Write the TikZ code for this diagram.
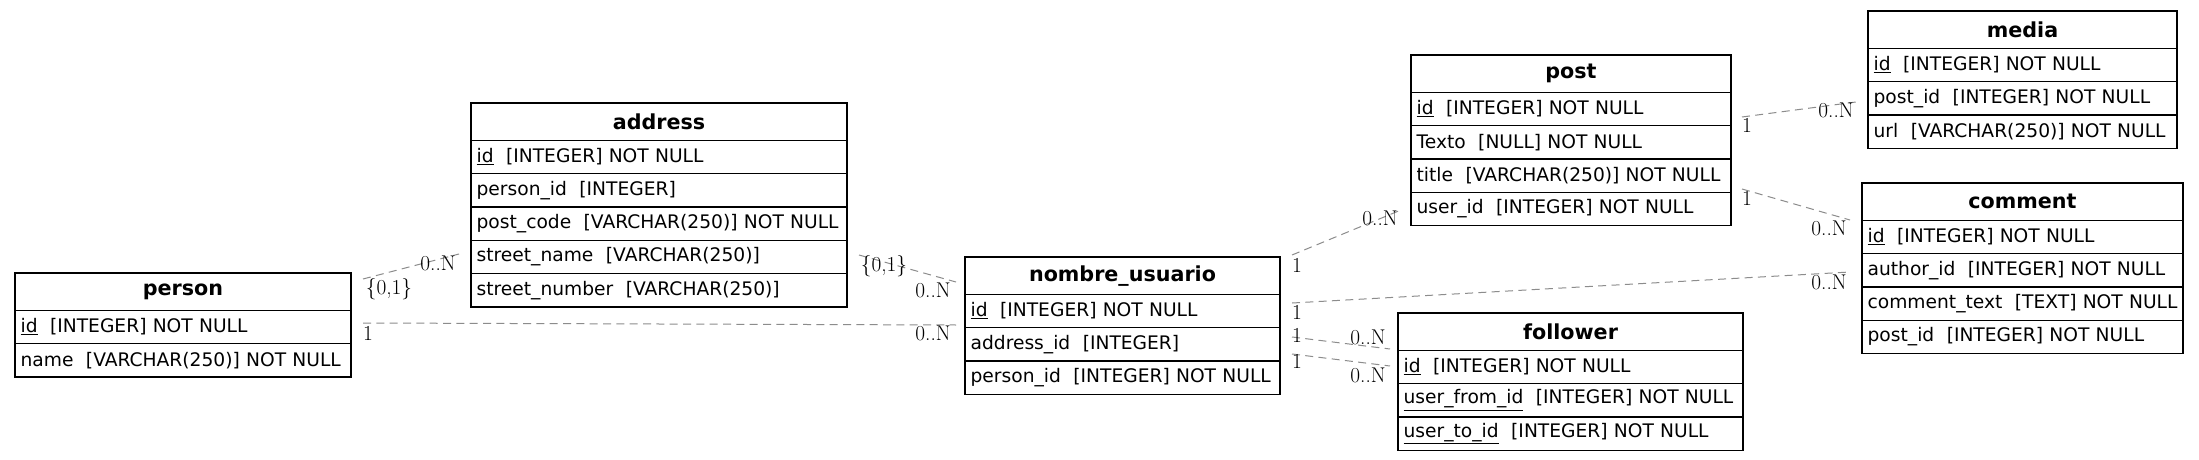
\documentclass[tikz,border=0pt]{standalone}
\usepackage{fontspec}
\newfontfamily\dv{DejaVu Sans}
\newcommand\fl[1]{\mbox{#1}}
\begin{document}
\begin{tikzpicture}[x=0.75pt,y=-0.75pt,
  hdr/.style={draw=black, line width=1pt, outer sep=0pt, anchor=north west, minimum height=28pt, inner xsep=0pt, inner ysep=0pt, text width=#1, align=center, font=\dv\bfseries\fontsize{15.5}{18}\selectfont},
  fld/.style={draw=black, line width=1pt, outer sep=0pt, anchor=north west, minimum height=25pt, inner xsep=4.2pt, inner ysep=0pt, text width=#1, align=left, font=\dv\fontsize{14}{16}\selectfont},
  rel/.style={draw=black!45, line width=0.75pt, dash pattern=on 6pt off 4pt},
  lbl/.style={inner sep=0pt, font=\fontsize{16}{18}\selectfont}]
\useasboundingbox (0,0) rectangle (2199,460);
\fill[white] (0,0) rectangle (2199,460);
% person (w 252pt)
\node[hdr=252pt] (person) at (15,273) {person};
\node[fld=243.6pt] (person1) at (person.south west) {\fl{\underline{id}~~[INTEGER] NOT NULL}};
\node[fld=243.6pt] (person2) at (person1.south west) {\fl{name~~[VARCHAR(250)] NOT NULL}};
% address (w 282pt)
\node[hdr=282pt] (address) at (471,103) {address};
\node[fld=273.6pt] (address1) at (address.south west) {\fl{\underline{id}~~[INTEGER] NOT NULL}};
\node[fld=273.6pt] (address2) at (address1.south west) {\fl{person\_id~~[INTEGER]}};
\node[fld=273.6pt] (address3) at (address2.south west) {\fl{post\_code~~[VARCHAR(250)] NOT NULL}};
\node[fld=273.6pt] (address4) at (address3.south west) {\fl{street\_name~~[VARCHAR(250)]}};
\node[fld=273.6pt] (address5) at (address4.south west) {\fl{street\_number~~[VARCHAR(250)]}};
% nombre_usuario (w 236.25pt)
\node[hdr=236.25pt] (user) at (965,257) {nombre\_usuario};
\node[fld=227.85pt] (user1) at (user.south west) {\fl{\underline{id}~~[INTEGER] NOT NULL}};
\node[fld=227.85pt] (user2) at (user1.south west) {\fl{address\_id~~[INTEGER]}};
\node[fld=227.85pt] (user3) at (user2.south west) {\fl{person\_id~~[INTEGER] NOT NULL}};
% post (w 240pt)
\node[hdr=240pt] (post) at (1411,55) {post};
\node[fld=231.6pt] (post1) at (post.south west) {\fl{\underline{id}~~[INTEGER] NOT NULL}};
\node[fld=231.6pt] (post2) at (post1.south west) {\fl{Texto~~[NULL] NOT NULL}};
\node[fld=231.6pt] (post3) at (post2.south west) {\fl{title~~[VARCHAR(250)] NOT NULL}};
\node[fld=231.6pt] (post4) at (post3.south west) {\fl{user\_id~~[INTEGER] NOT NULL}};
% follower (w 258.75pt)
\node[hdr=258.75pt] (follower) at (1398,313) {follower};
\node[fld=250.35pt] (follower1) at (follower.south west) {\fl{\underline{id}~~[INTEGER] NOT NULL}};
\node[fld=250.35pt] (follower2) at (follower1.south west) {\fl{\underline{user\_from\_id}~~[INTEGER] NOT NULL}};
\node[fld=250.35pt] (follower3) at (follower2.south west) {\fl{\underline{user\_to\_id}~~[INTEGER] NOT NULL}};
% media (w 231.75pt)
\node[hdr=231.75pt] (media) at (1868,11) {media};
\node[fld=223.35pt] (media1) at (media.south west) {\fl{\underline{id}~~[INTEGER] NOT NULL}};
\node[fld=223.35pt] (media2) at (media1.south west) {\fl{post\_id~~[INTEGER] NOT NULL}};
\node[fld=223.35pt] (media3) at (media2.south west) {\fl{url~~[VARCHAR(250)] NOT NULL}};
% comment (w 240.75pt)
\node[hdr=240.75pt] (comment) at (1862,183) {comment};
\node[fld=232.35pt] (comment1) at (comment.south west) {\fl{\underline{id}~~[INTEGER] NOT NULL}};
\node[fld=232.35pt] (comment2) at (comment1.south west) {\fl{author\_id~~[INTEGER] NOT NULL}};
\node[fld=232.35pt] (comment3) at (comment2.south west) {\fl{comment\_text~~[TEXT] NOT NULL}};
\node[fld=232.35pt] (comment4) at (comment3.south west) {\fl{post\_id~~[INTEGER] NOT NULL}};
% connector end points
\coordinate (a1) at (363,279); \coordinate (b1) at (459,254);
\coordinate (a2) at (363,323); \coordinate (b2) at (956,325);
\coordinate (a3) at (859,255); \coordinate (b3) at (956,282);
\coordinate (a4) at (1292,255); \coordinate (b4) at (1401,210);
\coordinate (a5) at (1292,303); \coordinate (b5) at (1850,272);
\coordinate (a6) at (1292,337); \coordinate (b6) at (1390,349);
\coordinate (a7) at (1292,354); \coordinate (b7) at (1390,366);
\coordinate (a8) at (1742,117); \coordinate (b8) at (1856,102);
\coordinate (a9) at (1742,189); \coordinate (b9) at (1850,220);
\foreach \i in {1,...,9} {\draw[rel] (a\i) -- (b\i);}
% labels
\node[lbl] (t1) at (389,289) {\{0,1\}};  \node[lbl] (h1) at (438,263) {0..N};
\node[lbl] (t2) at (368,333) {1};        \node[lbl] (h2) at (933,333) {0..N};
\node[lbl] (t3) at (884,266) {\{0,1\}};  \node[lbl] (h3) at (933,290) {0..N};
\node[lbl] (t4) at (1297,265) {1};       \node[lbl] (h4) at (1380,218) {0..N};
\node[lbl] (t5) at (1297,312) {1};       \node[lbl] (h5) at (1829,282) {0..N};
\node[lbl] (t6) at (1297,335) {1};       \node[lbl] (h6) at (1368,337) {0..N};
\node[lbl] (t7) at (1297,361) {1};       \node[lbl] (h7) at (1368,375) {0..N};
\node[lbl] (t8) at (1747,125) {1};       \node[lbl] (h8) at (1836,110) {0..N};
\node[lbl] (t9) at (1747,198) {1};       \node[lbl] (h9) at (1829,228) {0..N};
\end{tikzpicture}
\end{document}
